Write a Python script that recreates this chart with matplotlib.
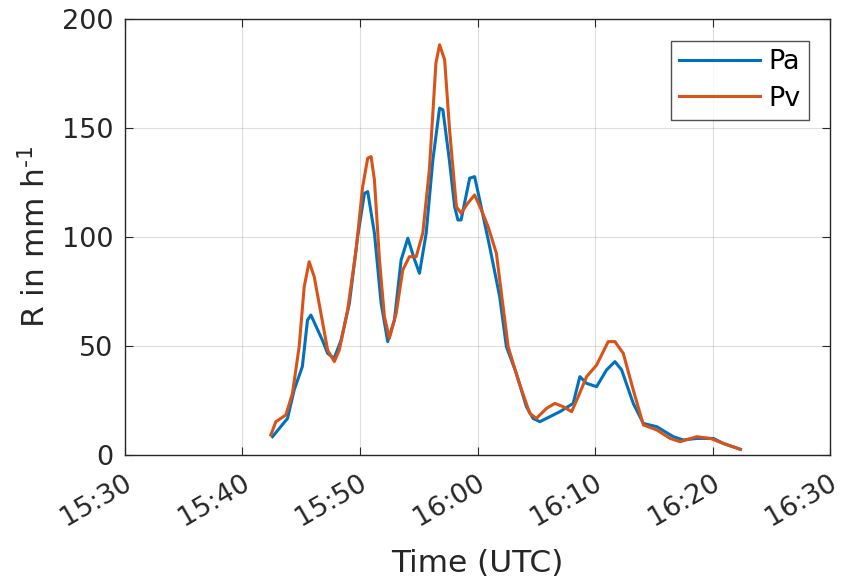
import matplotlib
matplotlib.use('Agg')
import matplotlib.pyplot as plt
import matplotlib.dates as mdates
import matplotlib.transforms as mtrans
import pandas as pd

# minutes after 15:30 UTC and rain rate in mm/h
pa_min = [12.56, 13.84, 14.4, 15.1, 15.54, 15.83, 16.8, 17.25, 17.8, 18.4, 19.1, 19.8,
          20.38, 20.66, 21.23, 21.8, 22.36, 22.93, 23.5, 24.07, 24.6, 25.06, 25.63, 26.2,
          26.77, 27.05, 27.6, 28.05, 28.33, 28.6, 29.33, 29.75, 30.18, 31.03, 31.88, 32.45,
          33.3, 34.15, 34.72, 35.3, 36.15, 37.0, 38.13, 38.7, 39.27, 40.12, 40.97, 41.68,
          42.25, 43.24, 44.1, 45.24, 46.65, 47.5, 48.64, 50.06, 50.9, 52.35]
pa_val = [8.2, 16.6, 29.6, 40.4, 61.8, 64.1, 52.6, 46.5, 44.2, 52.6, 69.5, 100,
          120, 120.8, 101.7, 69.5, 51.9, 61.8, 89.4, 99.4, 90.2, 83.3, 101.7, 135.4,
          159.2, 158.4, 135.4, 113.9, 107.8, 107.8, 127, 127.7, 117, 95.5, 72.6, 49.6,
          37.3, 22, 16.6, 15.1, 17.4, 19.7, 23.5, 35.8, 32.7, 31.2, 38.9, 42.7,
          38.9, 23.5, 14.3, 12.8, 8.2, 6.7, 7.4, 7.4, 5.1, 2.4]

pv_min = [12.42, 12.85, 13.7, 14.26, 14.83, 15.26, 15.68, 16.11, 16.68, 17.25, 17.82, 18.24,
          18.95, 19.67, 20.23, 20.66, 20.95, 21.23, 21.66, 22.08, 22.5, 23.08, 23.64, 24.2,
          24.78, 25.34, 25.9, 26.46, 26.77, 27.2, 27.62, 28.2, 28.6, 29.17, 29.75, 30.32,
          30.9, 31.6, 32.6, 33.45, 34.44, 35.0, 35.86, 36.57, 37.28, 38.0, 38.56, 39.27,
          40.12, 41.11, 41.68, 42.39, 43.24, 44.1, 45.24, 46.38, 47.23, 48.64, 49.8, 50.9, 52.35]
pv_val = [9, 15.1, 18.2, 28.1, 49.6, 77.2, 88.6, 81.7, 64.9, 48, 42.7, 48,
          66.4, 94, 123.1, 136.2, 136.9, 126.2, 89.4, 63.4, 53.4, 64.9, 84.8, 90.9,
          90.9, 101.7, 130.8, 179.9, 188.3, 181.4, 149.2, 113.9, 110.9, 115.5, 119.3, 112.4,
          104.7, 92.5, 49.6, 34.3, 18.9, 16.6, 21.2, 23.5, 22, 19.7, 26.6, 35.8,
          41.1, 51.9, 51.9, 46.5, 29.7, 13.6, 11.3, 7.4, 5.9, 8.2, 7.4, 5.1, 2.4]

t0 = pd.Timestamp('2000-01-01 15:30')
pa_t = t0 + pd.to_timedelta(pa_min, unit='min')
pv_t = t0 + pd.to_timedelta(pv_min, unit='min')

plt.rcParams['font.family'] = 'DejaVu Sans'
plt.rcParams['mathtext.fontset'] = 'dejavusans'

fig = plt.figure(figsize=(8.43, 5.85), dpi=100)
ax = fig.add_axes([0.148, 0.223, 0.837, 0.744])

ax.plot(pa_t, pa_val, color='#0072BD', lw=2.2, label='Pa')
ax.plot(pv_t, pv_val, color='#D95319', lw=2.2, label='Pv')

ax.set_xlim(t0, t0 + pd.Timedelta(minutes=60))
ax.set_ylim(0, 200)
ax.set_yticks([0, 50, 100, 150, 200])
ax.xaxis.set_major_locator(mdates.MinuteLocator(byminute=[0, 10, 20, 30, 40, 50]))
ax.xaxis.set_major_formatter(mdates.DateFormatter('%H:%M'))

ax.grid(True, color='#262626', alpha=0.15, lw=0.8)
for s in ax.spines.values():
    s.set_color('#262626')
    s.set_linewidth(1.0)
ax.tick_params(direction='in', length=6, top=True, right=True, colors='#262626',
               labelsize=19.5)
ax.tick_params(axis='y', pad=8)
ax.tick_params(axis='x', pad=19)

# rotated time labels, nudged a little to the right like the original
shift = mtrans.ScaledTranslation(5 / 100, 0, fig.dpi_scale_trans)
for tick in ax.xaxis.get_major_ticks(7):
    lab = tick.label1
    lab.set_rotation(30)
    lab.set_ha('right')
    lab.set_va('center')
    lab.set_rotation_mode('anchor')
    lab.set_transform(lab.get_transform() + shift)

ax.set_xlabel('Time (UTC)', fontsize=22.5, color='#262626', labelpad=13)
ax.set_ylabel(r'R in mm h$^{\text{-1}}$', fontsize=22.5, color='#262626', labelpad=8)

leg = ax.legend(loc='upper right', fontsize=19.5, frameon=True, fancybox=False,
                edgecolor='#262626', handlelength=3.0, handletextpad=0.3,
                borderaxespad=0.8, borderpad=0.3, labelspacing=0.4)
leg.get_frame().set_linewidth(1.0)

fig.savefig('out.png', dpi=100)
